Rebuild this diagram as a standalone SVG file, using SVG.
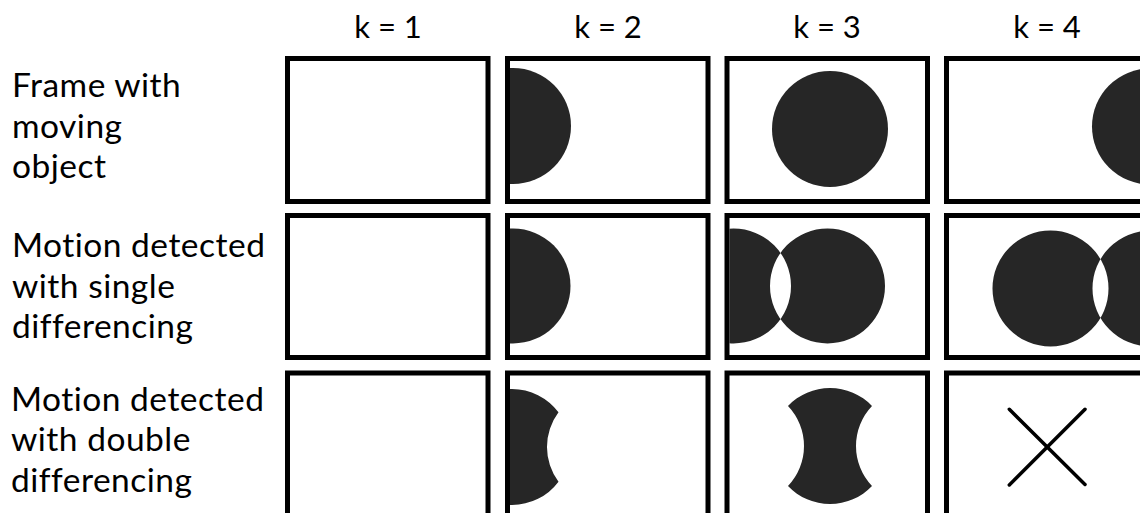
<svg xmlns="http://www.w3.org/2000/svg" width="1140" height="513" viewBox="0 0 1140 513">
<style>
.lbl{font-family:Lato,"Open Sans","DejaVu Sans",sans-serif;font-size:33.5px;letter-spacing:0.5px;fill:#000}
.hdr{font-family:Lato,"Open Sans","DejaVu Sans",sans-serif;font-size:31px;fill:#000;text-anchor:middle}
.frame{fill:none;stroke:#000;stroke-width:5}
.obj{fill:#262626}
.x{stroke:#000;stroke-width:3.5;stroke-linecap:round;fill:none}
</style>
<defs>
<clipPath id="c12"><rect x="510" y="61" width="195.5" height="138"/></clipPath>
<clipPath id="c13"><rect x="729.5" y="61" width="195.5" height="138"/></clipPath>
<clipPath id="c14"><rect x="949" y="61" width="195.5" height="138"/></clipPath>
<clipPath id="c22"><rect x="510" y="218" width="195.5" height="137"/></clipPath>
<clipPath id="c23"><rect x="729.5" y="218" width="195.5" height="137"/></clipPath>
<clipPath id="c24"><rect x="949" y="218" width="195.5" height="137"/></clipPath>
<clipPath id="c32"><rect x="510" y="375.5" width="195.5" height="138"/></clipPath>
</defs>
<rect width="1140" height="513" fill="#fff"/>

<g id="headers">
<text class="hdr" x="388" y="38.3">k = 1</text>
<text class="hdr" x="608" y="38.3">k = 2</text>
<text class="hdr" x="827" y="38.3">k = 3</text>
<text class="hdr" x="1047" y="38.3">k = 4</text>
</g>

<g id="row-labels">
<text class="lbl" id="label-frame"><tspan x="12" y="97.3">Frame with</tspan><tspan x="12" y="137.8">moving</tspan><tspan x="12" y="178.3">object</tspan></text>
<text class="lbl" id="label-single"><tspan x="12" y="257.3">Motion detected</tspan><tspan x="12" y="297.8">with single</tspan><tspan x="12" y="338.3">differencing</tspan></text>
<text class="lbl" id="label-double"><tspan x="11" y="410.7">Motion detected</tspan><tspan x="11" y="451.2">with double</tspan><tspan x="11" y="491.7">differencing</tspan></text>
</g>

<g id="r1c1"><rect class="frame" x="287.5" y="58.5" width="200.5" height="143"/></g>
<g id="r1c2">
<circle class="obj" cx="513" cy="126" r="58" clip-path="url(#c12)"/>
<rect class="frame" x="507.5" y="58.5" width="200.5" height="143"/>
</g>
<g id="r1c3">
<circle class="obj" cx="830" cy="129" r="58" clip-path="url(#c13)"/>
<rect class="frame" x="727" y="58.5" width="200.5" height="143"/>
</g>
<g id="r1c4">
<circle class="obj" cx="1150" cy="126.5" r="58" clip-path="url(#c14)"/>
<rect class="frame" x="946.5" y="58.5" width="200.5" height="143"/>
</g>

<g id="r2c1"><rect class="frame" x="287.5" y="215.5" width="200.5" height="142"/></g>
<g id="r2c2">
<circle class="obj" cx="513" cy="286" r="57.5" clip-path="url(#c22)"/>
<rect class="frame" x="507.5" y="215.5" width="200.5" height="142"/>
</g>
<g id="r2c3">
<path class="obj" fill-rule="evenodd" clip-path="url(#c23)" d="M676 286a57.5 57.5 0 1 0 115 0a57.5 57.5 0 1 0 -115 0Z M770 286a57.5 57.5 0 1 0 115 0a57.5 57.5 0 1 0 -115 0Z"/>
<rect class="frame" x="727" y="215.5" width="200.5" height="142"/>
</g>
<g id="r2c4">
<path class="obj" fill-rule="evenodd" clip-path="url(#c24)" d="M992.5 288.5a58 58 0 1 0 116 0a58 58 0 1 0 -116 0Z M1092.5 288.5a58 58 0 1 0 116 0a58 58 0 1 0 -116 0Z"/>
<rect class="frame" x="946.5" y="215.5" width="200.5" height="142"/>
</g>

<g id="r3c1"><rect class="frame" x="287.5" y="373" width="200.5" height="143"/></g>
<g id="r3c2">
<path class="obj" clip-path="url(#c32)" d="M505 389 L512 389 A58 58 0 0 1 558.5 412.3 A58 58 0 0 0 558.5 481.7 A58 58 0 0 1 512 505 L505 505 Z"/>
<rect class="frame" x="507.5" y="373" width="200.5" height="143"/>
</g>
<g id="r3c3">
<path class="obj" d="M788 406 A58 58 0 0 1 872 406 A58 58 0 0 0 872 486 A58 58 0 0 1 788 486 A58 58 0 0 0 788 406 Z"/>
<rect class="frame" x="727" y="373" width="200.5" height="143"/>
</g>
<g id="r3c4">
<line class="x" x1="1009.3" y1="409.3" x2="1085" y2="484.5"/>
<line class="x" x1="1085" y1="409.3" x2="1009.3" y2="485"/>
<rect class="frame" x="946.5" y="373" width="200.5" height="143"/>
</g>
<g id="connectors"/>
</svg>
